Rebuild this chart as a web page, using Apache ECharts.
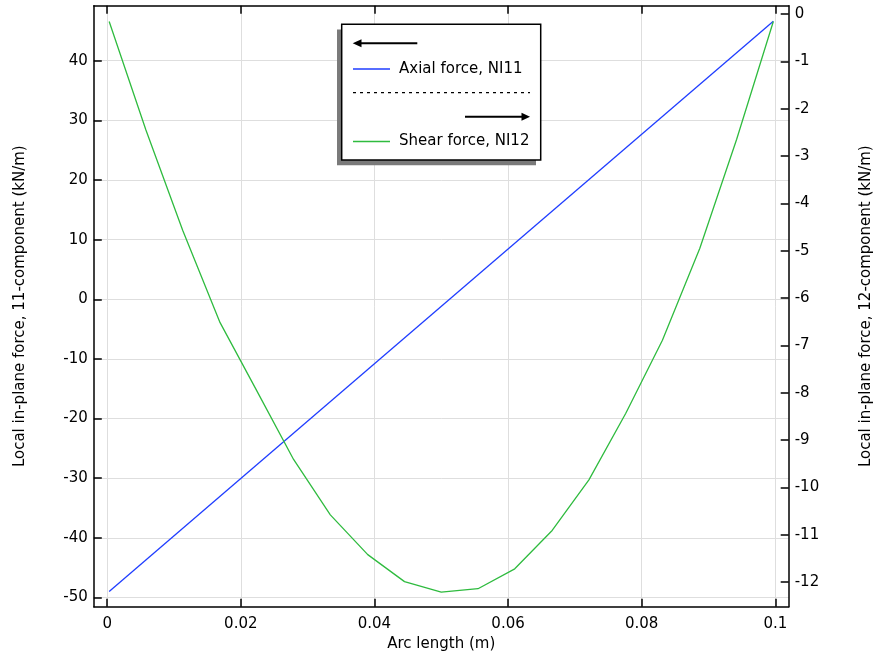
<!DOCTYPE html>
<html>
<head>
<meta charset="utf-8">
<script src="https://cdn.jsdelivr.net/npm/echarts@6/dist/echarts.min.js"></script>
<style>html,body{margin:0;padding:0;background:#fff}#c{width:876px;height:655px}</style>
</head>
<body>
<div id="c"></div>
<script>
// ---- data ----
const axialX = [0.0003, 0.0997];
const axialNI11 = [-49.0, 46.6];

const shearX = [0.0003, 0.0058, 0.0113, 0.0169, 0.0224, 0.0279, 0.0334, 0.0390, 0.0445, 0.0500,
                0.0555, 0.0610, 0.0666, 0.0721, 0.0776, 0.0831, 0.0887, 0.0942, 0.0997];
const shearNI12 = [-0.16, -2.45, -4.57, -6.52, -7.96, -9.41, -10.58, -11.42, -11.99, -12.21,
                   -12.14, -11.72, -10.91, -9.84, -8.44, -6.89, -4.95, -2.65, -0.16];

const xTicks = [0, 0.02, 0.04, 0.06, 0.08, 0.1];
const leftTicks = [-50, -40, -30, -20, -10, 0, 10, 20, 30, 40];
const rightTicks = [-12, -11, -10, -9, -8, -7, -6, -5, -4, -3, -2, -1, 0];

const seriesNames = ['Axial force, NI11', 'Shear force, NI12'];
const xTitle = 'Arc length (m)';
const leftTitle = 'Local in-plane force, 11-component (kN/m)';
const rightTitle = 'Local in-plane force, 12-component (kN/m)';

// ---- chart ----
const FONT = 'DejaVu Sans';
const BLUE = '#1f3dff';
const GREEN = '#2fbb3f';
const lbl = { color: '#000', fontFamily: FONT, fontSize: 15 };
const axLine = { show: true, onZero: false, lineStyle: { color: '#000', width: 1.5 } };
const tick = (vals) => ({ show: true, inside: true, length: 8, customValues: vals, lineStyle: { color: '#000', width: 1.5 } });

const chart = echarts.init(document.getElementById('c'), null, { renderer: 'canvas' });
chart.setOption({
  animation: false,
  backgroundColor: '#fff',
  grid: { left: 93.8, right: 87.3, top: 5.7, bottom: 48.3, containLabel: false, outerBoundsMode: 'none' },
  xAxis: [
    {
      type: 'value', position: 'bottom', min: -0.002, max: 0.102,
      axisLine: axLine, axisTick: tick(xTicks),
      axisLabel: Object.assign({ margin: 10, customValues: xTicks }, lbl),
      splitLine: { show: true, lineStyle: { color: '#dedede', width: 1 } },
      name: xTitle, nameLocation: 'middle', nameGap: 25,
      nameTextStyle: { color: '#000', fontFamily: FONT, fontSize: 15 }
    },
    {
      type: 'value', position: 'top', min: -0.002, max: 0.102,
      axisLine: axLine, axisTick: tick(xTicks),
      axisLabel: { show: false }, splitLine: { show: false }
    }
  ],
  yAxis: [
    {
      type: 'value', position: 'left', min: -51.54, max: 49.22,
      axisLine: axLine, axisTick: tick(leftTicks),
      axisLabel: Object.assign({ margin: 6, customValues: leftTicks }, lbl),
      splitLine: { show: true, lineStyle: { color: '#dedede', width: 1 } },
      name: leftTitle, nameLocation: 'middle', nameGap: 66,
      nameTextStyle: { color: '#000', fontFamily: FONT, fontSize: 15 }
    },
    {
      type: 'value', position: 'right', min: -12.52, max: 0.175,
      axisLine: axLine, axisTick: tick(rightTicks),
      axisLabel: Object.assign({ margin: 6, customValues: rightTicks }, lbl),
      splitLine: { show: false },
      name: rightTitle, nameLocation: 'middle', nameGap: 70, nameRotate: 90,
      nameTextStyle: { color: '#000', fontFamily: FONT, fontSize: 15 }
    }
  ],
  legend: [
    {
      data: [seriesNames[0]], left: 353, top: 61.5, padding: 0, icon: 'rect',
      itemWidth: 37, itemHeight: 1.3, z: 10,
      textStyle: { color: '#000', fontFamily: FONT, fontSize: 15, padding: [0, 0, 0, 4] }
    },
    {
      data: [seriesNames[1]], left: 353, top: 134, padding: 0, icon: 'rect',
      itemWidth: 37, itemHeight: 1.3, z: 10,
      textStyle: { color: '#000', fontFamily: FONT, fontSize: 15, padding: [0, 0, 0, 4] }
    }
  ],
  graphic: [
    { type: 'rect', z: 5, shape: { x: 337, y: 29.5, width: 199, height: 135.7 }, style: { fill: '#7a7a7a' } },
    { type: 'rect', z: 6, shape: { x: 341.7, y: 24.3, width: 199, height: 135.7 }, style: { fill: '#fff', stroke: '#000', lineWidth: 1.5 } },
    { type: 'line', z: 7, shape: { x1: 417.3, y1: 43.3, x2: 359, y2: 43.3 }, style: { stroke: '#000', lineWidth: 2 } },
    { type: 'polygon', z: 7, shape: { points: [[352.7, 43.3], [361.5, 39.3], [361.5, 47.3]] }, style: { fill: '#000' } },
    { type: 'line', z: 7, shape: { x1: 353, y1: 92.7, x2: 530, y2: 92.7 }, style: { stroke: '#000', lineWidth: 1.2, lineDash: [3, 4] } },
    { type: 'line', z: 7, shape: { x1: 465, y1: 116.7, x2: 523, y2: 116.7 }, style: { stroke: '#000', lineWidth: 2 } },
    { type: 'polygon', z: 7, shape: { points: [[530, 116.7], [521.5, 112.7], [521.5, 120.7]] }, style: { fill: '#000' } }
  ],
  series: [
    {
      name: seriesNames[0], type: 'line', xAxisIndex: 0, yAxisIndex: 0,
      data: axialX.map((x, i) => [x, axialNI11[i]]),
      showSymbol: false, symbol: 'none', color: BLUE,
      lineStyle: { color: BLUE, width: 1.3 }, z: 3
    },
    {
      name: seriesNames[1], type: 'line', xAxisIndex: 0, yAxisIndex: 1,
      data: shearX.map((x, i) => [x, shearNI12[i]]),
      showSymbol: false, symbol: 'none', color: GREEN,
      lineStyle: { color: GREEN, width: 1.3 }, z: 3
    }
  ]
});
</script>
</body>
</html>
